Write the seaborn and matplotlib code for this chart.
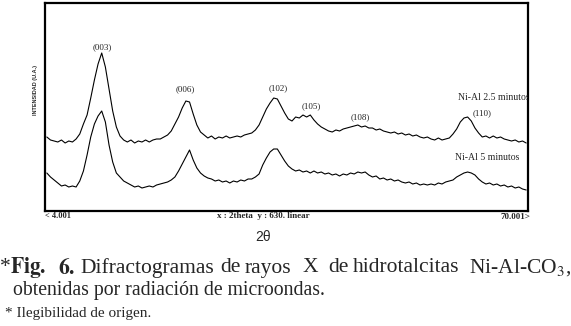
import numpy as np
import pandas as pd
import matplotlib
matplotlib.use('Agg')
import matplotlib.pyplot as plt
import seaborn as sns

# 2theta sampling (deg)
two_theta = [4.25, 4.75, 5.25, 5.75, 6.25, 6.75, 7.25, 7.75, 8.25, 8.75,
             9.25, 9.75, 10.25, 10.75, 11.25, 11.75, 12.25, 12.75, 13.25, 13.75,
             14.25, 14.75, 15.25, 15.75, 16.25, 16.75, 17.25, 17.75, 18.25, 18.75,
             19.25, 19.75, 20.25, 20.75, 21.25, 21.75, 22.25, 22.75, 23.25, 23.75,
             24.25, 24.75, 25.25, 25.75, 26.25, 26.75, 27.25, 27.75, 28.25, 28.75,
             29.25, 29.75, 30.25, 30.75, 31.25, 31.75, 32.25, 32.75, 33.25, 33.75,
             34.25, 34.75, 35.25, 35.75, 36.25, 36.75, 37.25, 37.75, 38.25, 38.75,
             39.25, 39.75, 40.25, 40.75, 41.25, 41.75, 42.25, 42.75, 43.25, 43.75,
             44.25, 44.75, 45.25, 45.75, 46.25, 46.75, 47.25, 47.75, 48.25, 48.75,
             49.25, 49.75, 50.25, 50.75, 51.25, 51.75, 52.25, 52.75, 53.25, 53.75,
             54.25, 54.75, 55.25, 55.75, 56.25, 56.75, 57.25, 57.75, 58.25, 58.75,
             59.25, 59.75, 60.25, 60.75, 61.25, 61.75, 62.25, 62.75, 63.25, 63.75,
             64.25, 64.75, 65.25, 65.75, 66.25, 66.75, 67.25, 67.75, 68.25, 68.75,
             69.25, 69.75]

# Ni-Al 2.5 minutos (u.a., offset trace)
int_25min = [74, 71, 70, 69, 71, 68, 70, 69, 72, 77,
             87, 96, 113, 131, 147, 158, 144, 122, 100, 84,
             75, 71, 69, 71, 68, 70, 69, 71, 69, 71,
             72, 72, 74, 76, 80, 87, 94, 103, 110, 109,
             97, 86, 79, 76, 73, 75, 72, 74, 73, 75,
             73, 74, 75, 74, 76, 77, 78, 81, 86, 94,
             102, 108, 113, 112, 105, 98, 92, 90, 94, 93,
             96, 94, 96, 91, 87, 84, 82, 80, 79, 81,
             80, 82, 83, 84, 85, 86, 84, 85, 83, 83,
             81, 82, 80, 79, 78, 79, 77, 78, 76, 77,
             75, 76, 74, 73, 74, 72, 71, 73, 71, 72,
             73, 77, 82, 89, 93, 94, 90, 83, 78, 74,
             75, 73, 75, 73, 74, 72, 71, 70, 71, 69,
             70, 68]

# Ni-Al 5 minutos
int_5min = [38, 34, 31, 28, 25, 26, 24, 25, 24, 30,
            40, 56, 74, 87, 95, 100, 89, 66, 49, 38,
            34, 30, 28, 26, 24, 25, 23, 24, 25, 24,
            26, 27, 28, 29, 31, 34, 40, 47, 54, 61,
            51, 43, 38, 35, 33, 32, 30, 31, 29, 30,
            28, 30, 29, 31, 30, 32, 32, 34, 37, 46,
            53, 59, 62, 62, 56, 50, 45, 42, 40, 41,
            39, 40, 38, 40, 38, 39, 37, 38, 36, 37,
            35, 37, 36, 38, 37, 39, 38, 39, 36, 34,
            35, 32, 33, 31, 32, 30, 31, 29, 28, 29,
            27, 28, 26, 27, 26, 27, 26, 28, 27, 29,
            30, 31, 34, 36, 38, 39, 38, 36, 32, 29,
            27, 28, 26, 27, 25, 26, 24, 25, 23, 24,
            22, 21]

peak_labels = ['(003)', '(006)', '(102)', '(105)', '(108)', '(110)']
peak_x = [11.79, 23.13, 35.84, 40.35, 47.05, 63.7]
peak_y = [164, 122, 123, 105, 94, 98]

# caption words (justified line) and their left edges in px
cap_words = ['*', r'$\mathbf{Fig.}$', r'$\mathbf{6.}$', 'Difractogramas', 'de', 'rayos', 'X', 'de',
             'hidrotalcitas', 'Ni-Al-CO$_3$,']
cap_left = [0, 10, 58, 80, 220, 245, 303, 328, 353, 469]

df = pd.DataFrame({'2theta': two_theta * 2,
                   'intensidad': int_25min + int_5min,
                   'muestra': ['2.5'] * len(two_theta) + ['5'] * len(two_theta)})

sns.set_style('white')
plt.rcParams['font.family'] = ['Liberation Serif', 'DejaVu Serif']
plt.rcParams['mathtext.fontset'] = 'stix'

fig = plt.figure(figsize=(5.71, 3.26), dpi=100)
ax = fig.add_axes([45 / 571, 1 - 211 / 326, 483 / 571, 208 / 326])

sns.lineplot(data=df, x='2theta', y='intensidad', hue='muestra',
             palette=['black', 'black'], linewidth=0.8, legend=False, ax=ax)
ax.set_xlim(4.0, 70.0)
ax.set_ylim(0, 208)
ax.set_xticks([])
ax.set_yticks([])
ax.set_xlabel('')
ax.set_ylabel('')
for s in ax.spines.values():
    s.set_linewidth(1.6)
    s.set_color('black')

for lab, px, py in zip(peak_labels, peak_x, peak_y):
    ax.text(px, py, lab, fontsize=6.5, ha='center', va='center')
ax.text(60.45, 113, 'Ni-Al 2.5 minutos', fontsize=7, ha='left', va='center', clip_on=True)
ax.text(60.0, 53, 'Ni-Al 5 minutos', fontsize=7, ha='left', va='center')

fig.text(35 / 571, 1 - 90 / 326, 'INTENSIDAD (U.A.)', rotation=90, fontsize=4,
         fontweight='bold', ha='center', va='center',
         family=['Liberation Sans Narrow', 'Liberation Sans', 'DejaVu Sans'])

fig.text(45 / 571, 1 - 216 / 326, '< 4.001', fontsize=6, fontweight='bold', ha='left', va='center')
fig.text(263 / 571, 1 - 216 / 326, 'x : 2theta  y : 630. linear', fontsize=6.5, fontweight='bold',
         ha='center', va='center')
fig.text(530 / 571, 1 - 217 / 326, '70.001>', fontsize=6.5, fontweight='bold', ha='right', va='center')

fig.text(263 / 571, 1 - 237 / 326, '2θ', fontsize=10, ha='center', va='center',
         family=['Liberation Sans', 'DejaVu Sans'])

for w, lx in zip(cap_words, cap_left):
    fig.text(lx / 571, 1 - 268 / 326, w, fontsize=15.5, ha='left', va='center')
fig.text(13 / 571, 1 - 290 / 326, 'obtenidas por radiación de microondas.',
         fontsize=14.2, ha='left', va='center')
fig.text(5 / 571, 1 - 314 / 326, '* Ilegibilidad de origen.', fontsize=11, ha='left', va='center')

fig.savefig('out.png', dpi=100)
